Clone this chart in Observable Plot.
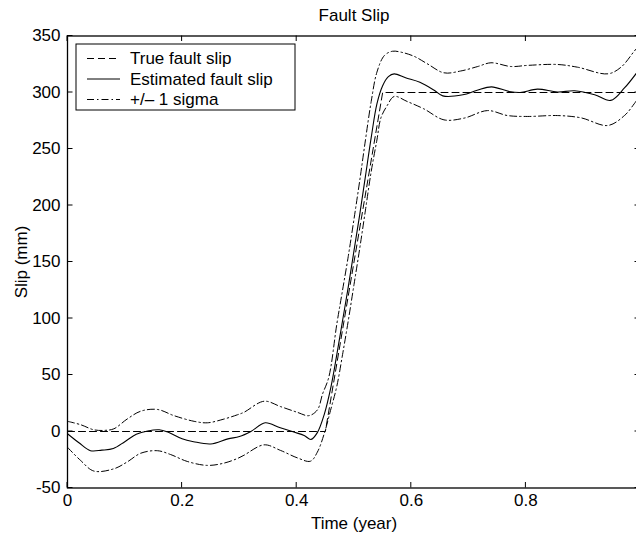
<!DOCTYPE html>
<html>
<head>
<meta charset="utf-8">
<script src="https://cdn.jsdelivr.net/npm/d3@7"></script>
<script src="https://cdn.jsdelivr.net/npm/@observablehq/plot@0.6"></script>
<style>
  html, body { margin: 0; padding: 0; background: #fff; overflow: hidden; }
  #chart svg { display: block; max-width: none; }
</style>
</head>
<body>
<div id="chart"></div>
<script>
// ---- data ----
const titleText = "Fault Slip";
const xLabel = "Time (year)";
const yLabel = "Slip (mm)";
const xTicks = [0, 0.2, 0.4, 0.6, 0.8, 1];
const xTickLabels = ["0", "0.2", "0.4", "0.6", "0.8", ""];
const yTicks = [-50, 0, 50, 100, 150, 200, 250, 300, 350];
const legendLabels = ["True fault slip", "Estimated fault slip", "+/\u2013 1 sigma"];

const trueT = [0, 0.45, 0.55, 1.0];
const trueV = [0, 0, 300, 300];

const estT = [0, 0.02, 0.04, 0.06, 0.08, 0.10, 0.12, 0.14, 0.16, 0.175, 0.20, 0.22, 0.25, 0.28, 0.30, 0.32, 0.345, 0.37, 0.395, 0.413, 0.425, 0.436, 0.448, 0.46, 0.47, 0.48, 0.49, 0.50, 0.51, 0.52, 0.53, 0.54, 0.55, 0.56, 0.57, 0.59, 0.615, 0.64, 0.655, 0.69, 0.715, 0.74, 0.77, 0.79, 0.82, 0.855, 0.885, 0.92, 0.948, 0.972, 1.0];
const estV = [-2, -10, -17, -16.5, -15, -9, -2.5, 0.5, 1.5, -0.5, -6.5, -9, -11, -6.5, -4.5, 0, 7.7, 3.5, -0.5, -3.5, -7, -1, 15, 40, 68, 98, 128, 160, 192, 226, 260, 290, 306, 314, 316.5, 313, 309, 302, 297, 298, 302, 305, 301, 300, 303, 300.5, 301.5, 298, 293, 304, 322];

const upT = [0, 0.023, 0.046, 0.065, 0.081, 0.104, 0.128, 0.157, 0.186, 0.221, 0.244, 0.273, 0.296, 0.308, 0.343, 0.372, 0.401, 0.421, 0.436, 0.445, 0.456, 0.47, 0.48, 0.49, 0.50, 0.51, 0.52, 0.53, 0.54, 0.553, 0.567, 0.582, 0.605, 0.628, 0.657, 0.686, 0.716, 0.739, 0.774, 0.803, 0.855, 0.89, 0.943, 0.966, 0.989, 1.0];
const upV = [9, 6, 1.5, 1, 2.4, 11, 18, 19.5, 14, 9, 7.7, 11, 14.7, 17, 26.8, 22, 17, 14, 19, 33, 48, 95, 125, 155, 188, 222, 258, 292, 318, 332.7, 336.5, 335.7, 332, 325.4, 317.4, 319, 323, 326.3, 323, 324, 324.8, 322.4, 316.5, 322.4, 336.5, 343];

const loT = [0, 0.023, 0.046, 0.081, 0.104, 0.128, 0.157, 0.18, 0.209, 0.244, 0.273, 0.296, 0.308, 0.343, 0.372, 0.401, 0.424, 0.436, 0.448, 0.459, 0.47, 0.48, 0.49, 0.50, 0.51, 0.52, 0.53, 0.54, 0.547, 0.558, 0.57, 0.593, 0.622, 0.657, 0.692, 0.733, 0.768, 0.803, 0.855, 0.896, 0.943, 0.972, 0.989, 1.0];
const loV = [-14, -25.7, -35, -33, -27, -19.2, -17, -20.4, -26.5, -30, -28, -24, -21, -11.8, -16.8, -23.3, -26.3, -18.3, -2, 18.6, 40, 68, 98, 130, 162, 196, 230, 258, 277.6, 288.5, 296.5, 292, 285.5, 275.8, 277.3, 284, 279.6, 278.8, 279.6, 277.6, 270.8, 279.6, 290, 298];

const zip = (ts, vs) => ts.map((t, i) => ({t, v: vs[i]}));
const trueData = zip(trueT, trueV);
const estData = zip(estT, estV);
const upData = zip(upT, upV);
const loData = zip(loT, loV);

const DASH = "7,4";
const DASHDOT = "7,3,1.5,3";
const FONT = "'Liberation Sans', Arial, Helvetica, sans-serif";

// inward ticks on all four sides, placed through the plot's scales
function boxTicks(index, scales, values, dims) {
  const g = d3.create("svg:g").attr("stroke", "black").attr("stroke-width", 1);
  const L = dims.marginLeft, R = dims.width - dims.marginRight;
  const T = dims.marginTop, B = dims.height - dims.marginBottom;
  const len = 5.5;
  for (const t of xTicks) {
    const x = scales.x(t);
    g.append("line").attr("x1", x).attr("x2", x).attr("y1", B).attr("y2", B - len);
    g.append("line").attr("x1", x).attr("x2", x).attr("y1", T).attr("y2", T + len);
  }
  for (const v of yTicks) {
    const y = scales.y(v);
    g.append("line").attr("x1", L).attr("x2", L + len).attr("y1", y).attr("y2", y);
    g.append("line").attr("x1", R).attr("x2", R - len).attr("y1", y).attr("y2", y);
  }
  return g.node();
}

// legend box inside the upper-left corner of the frame
function legend(index, scales, values, dims) {
  const g = d3.create("svg:g");
  const x0 = dims.marginLeft + 9, y0 = dims.marginTop + 8.5;
  g.append("rect").attr("x", x0).attr("y", y0).attr("width", 219).attr("height", 66)
    .attr("fill", "white").attr("stroke", "black").attr("stroke-width", 1);
  const dashes = [DASH, null, DASHDOT];
  legendLabels.forEach((lab, i) => {
    const y = y0 + 14.5 + i * 20.5;
    const ln = g.append("line").attr("x1", x0 + 11).attr("x2", x0 + 44).attr("y1", y).attr("y2", y)
      .attr("stroke", "black").attr("stroke-width", 1);
    if (dashes[i]) ln.attr("stroke-dasharray", dashes[i]);
    g.append("text").attr("x", x0 + 54).attr("y", y).attr("dy", "0.35em")
      .attr("text-anchor", "start")
      .attr("font-family", FONT).attr("font-size", 17).attr("fill", "black").text(lab);
  });
  return g.node();
}

const chart = Plot.plot({
  width: 636,
  height: 533,
  marginLeft: 67,
  marginRight: -4,
  marginTop: 35.5,
  marginBottom: 45.5,
  style: {fontFamily: FONT, fontSize: "17px", color: "black", background: "white", overflow: "hidden"},
  x: {domain: [0, 1]},
  y: {domain: [-50, 350]},
  marks: [
    Plot.line(trueData, {x: "t", y: "v", stroke: "black", strokeWidth: 1, strokeDasharray: DASH}),
    Plot.line(upData, {x: "t", y: "v", stroke: "black", strokeWidth: 1, strokeDasharray: DASHDOT, curve: "catmull-rom"}),
    Plot.line(loData, {x: "t", y: "v", stroke: "black", strokeWidth: 1, strokeDasharray: DASHDOT, curve: "catmull-rom"}),
    Plot.line(estData, {x: "t", y: "v", stroke: "black", strokeWidth: 1.1, curve: "catmull-rom"}),
    Plot.frame({stroke: "black", strokeWidth: 1.3}),
    boxTicks,
    Plot.axisX({ticks: xTicks, tickSize: 0, tickPadding: 6, tickFormat: (d, i) => xTickLabels[i],
      label: xLabel, labelAnchor: "center", labelOffset: 41, labelArrow: "none"}),
    Plot.axisY({ticks: yTicks, tickSize: 0, tickPadding: 7, tickFormat: d => String(d),
      label: yLabel, labelAnchor: "center", labelOffset: 53, labelArrow: "none"}),
    Plot.text([titleText], {text: d => d, frameAnchor: "top", dy: -27, fontSize: 17, fill: "black"}),
    legend
  ]
});
document.getElementById("chart").appendChild(chart);
</script>
</body>
</html>
